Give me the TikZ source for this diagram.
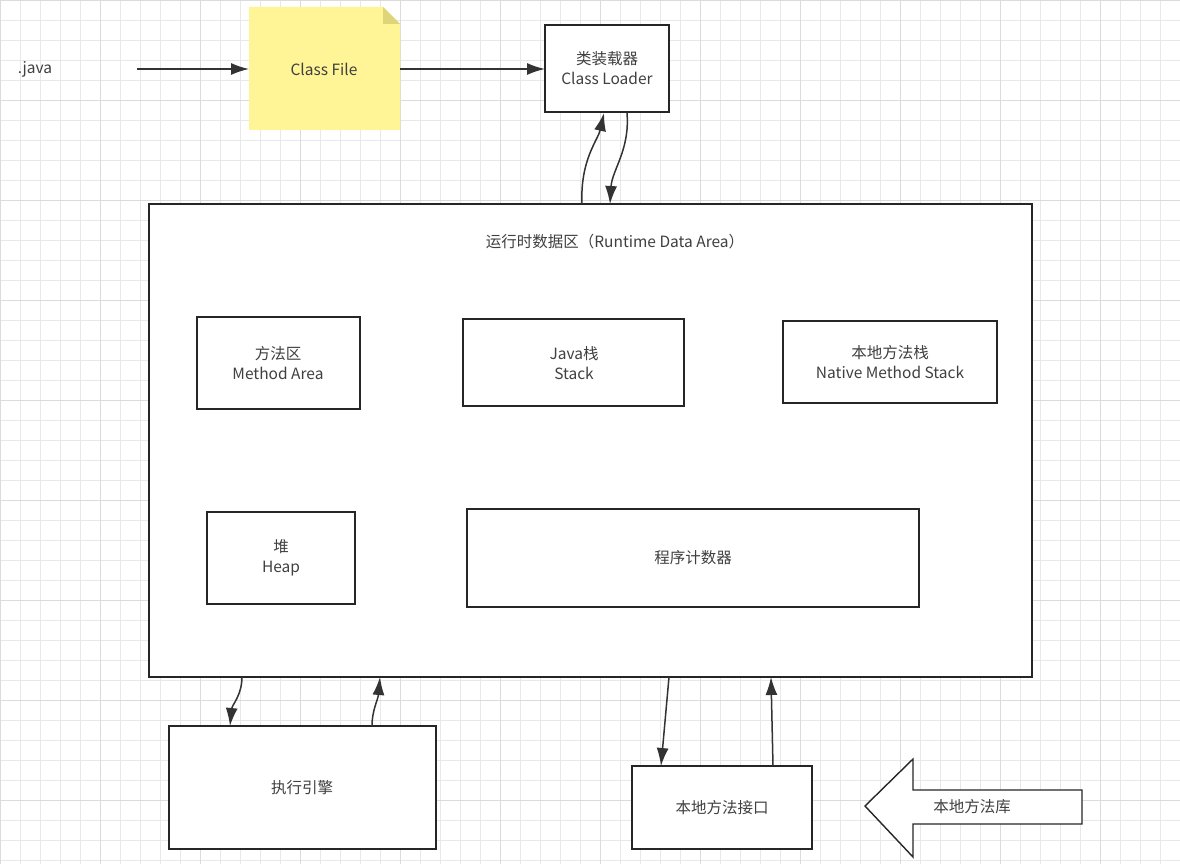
\documentclass[tikz,border=0pt]{standalone}
\usepackage{fontspec}
\usetikzlibrary{arrows.meta}
\setmainfont{Noto Sans CJK SC}
\definecolor{note}{RGB}{255,244,150}
\definecolor{fold}{RGB}{222,212,120}
\begin{document}
\begin{tikzpicture}[x=1pt,y=-1pt,
  box/.style={draw=black!85,line width=1.6pt,fill=white},
  lbl/.style={font=\fontsize{15.5}{19.5}\selectfont,text=black!75,align=center},
  arr/.style={draw=black!80,line width=1.5pt,-{Latex[length=18pt,width=12pt]}}]
\useasboundingbox (0,0) rectangle (1180,864);
\fill[white] (0,0) rectangle (1180,864);
\foreach \i in {0,20,...,1180} \draw[black!9,line width=0.6pt] (\i,0) -- (\i,864);
\foreach \j in {0,20,...,860} \draw[black!9,line width=0.6pt] (0,\j) -- (1180,\j);
\foreach \i in {0,100,...,1100} \draw[black!14,line width=0.9pt] (\i,0) -- (\i,864);
\foreach \j in {0,100,...,800} \draw[black!14,line width=0.9pt] (0,\j) -- (1180,\j);
% note
\fill[note] (249,7) -- (383,7) -- (400,24) -- (400,130) -- (249,130) -- cycle;
\fill[fold] (383,7) -- (400,24) -- (383,24) -- cycle;
\node[lbl] (cf) at (324,69) {Class File};
\coordinate (cfl) at (249,69); \coordinate (cfr) at (400,69);
\node[lbl] (java) at (35,69) {.java};
\coordinate (js) at (137,69);
\draw[box] (545,25) rectangle (669,112);
\node[lbl] (cl) at (607,68) {类装载器\\Class Loader};
\coordinate (clw) at (545,69);
\draw[arr] (js) -- (cfl);
\draw[arr] (cfr) -- (clw);
% runtime
\draw[box] (149,204) rectangle (1032,677);
\node[lbl] (rt) at (615,242) {运行时数据区（Runtime Data Area）};
\draw[box] (197,317) rectangle (360,409); \node[lbl] (ma) at (278,363) {方法区\\Method Area};
\draw[box] (463,319) rectangle (684,406); \node[lbl] (st) at (574,363) {Java栈\\Stack};
\draw[box] (783,321) rectangle (997,403); \node[lbl] (ns) at (890,362) {本地方法栈\\Native Method Stack};
\draw[box] (207,512) rectangle (355,604); \node[lbl] (hp) at (281,558) {堆\\Heap};
\draw[box] (467,509) rectangle (919,607); \node[lbl] (pc) at (693,558) {程序计数器};
\draw[arr] (582,204) .. controls (580,160) and (598,140) .. (604,113);
\draw[arr] (627,113) .. controls (630,150) and (612,170) .. (610,204);
% bottom
\draw[box] (169,726) rectangle (436,849); \node[lbl] (ee) at (302,788) {执行引擎};
\draw[box] (632,766) rectangle (812,849); \node[lbl] (ni) at (722,808) {本地方法接口};
\draw[arr] (242,677) .. controls (242,695) and (232,705) .. (230,726);
\draw[arr] (372,726) .. controls (372,710) and (378,700) .. (380,677);
\draw[arr] (669,677) -- (661,766);
\draw[arr] (773,766) -- (771,677);
\draw[box,line width=1.4pt] (865,806) -- (913,759) -- (913,790) -- (1082,790) -- (1082,824) -- (913,824) -- (913,857) -- cycle;
\node[lbl] (nl) at (972,807) {本地方法库};
\end{tikzpicture}
\end{document}
